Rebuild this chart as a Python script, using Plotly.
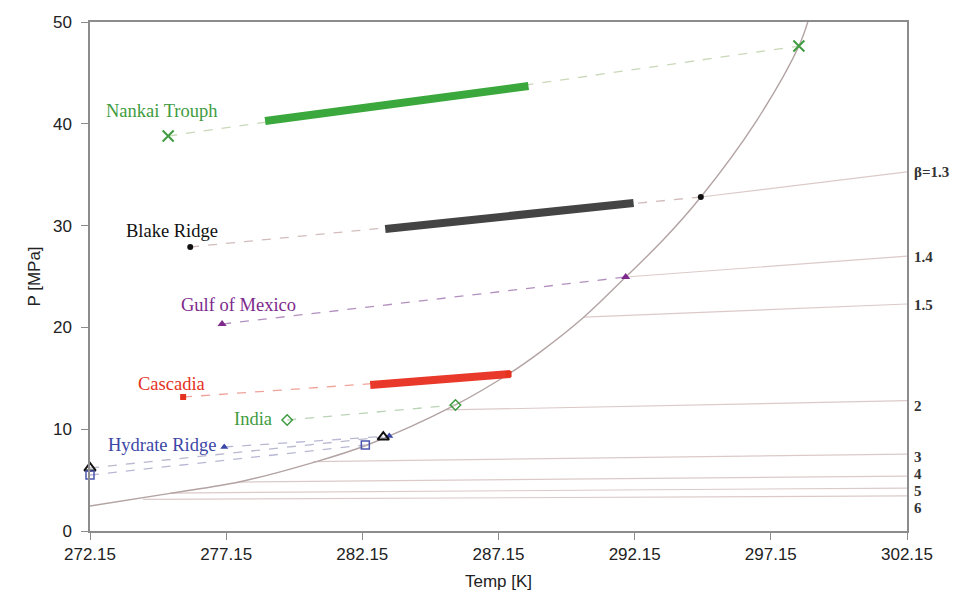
import plotly.graph_objects as go

# ---- data -------------------------------------------------------------
# hydrate stability boundary (temperature K, pressure MPa)
eq_T = [272.15, 275.09, 277.66, 280.24, 282.33, 285.57, 287.52, 288.69,
        290.28, 291.82, 293.2, 294.58, 296.6, 298.18, 298.55]
eq_P = [2.46, 3.70, 4.84, 6.65, 8.45, 12.38, 15.42, 17.6,
        21.0, 24.95, 28.6, 32.81, 40.2, 47.64, 50.4]

# sites: seafloor condition -> base of hydrate stability zone
sites = ["Nankai Trouph", "Blake Ridge", "Gulf of Mexico", "Cascadia",
         "India", "Hydrate Ridge", "Mallik", "Mt.Elbert"]
seafloor_T = [275.02, 275.83, 277.0, 275.57, 279.39, 277.08, 272.15, 272.15]
seafloor_P = [38.8, 27.9, 20.33, 13.16, 10.9, 8.25, 6.19, 5.5]
base_T = [298.18, 294.58, 291.82, 287.52, 285.57, 283.14, 282.92, 282.26]
base_P = [47.64, 32.81, 24.95, 15.42, 12.38, 9.33, 9.23, 8.45]

# hydrate-bearing intervals
zone_sites = ["Nankai Trouph", "Blake Ridge", "Cascadia"]
zone_T0 = [278.58, 282.99, 282.44]
zone_P0 = [40.28, 29.67, 14.34]
zone_T1 = [288.25, 292.11, 287.59]
zone_P1 = [43.71, 32.22, 15.42]

# geothermal-gradient lines (beta)
beta_labels = ["β=1.3", "1.4", "1.5", "2", "3", "4", "5", "6"]
beta_T0 = [294.58, 291.82, 290.28, 285.25, 280.35, 277.55, 275.09, 274.1]
beta_P0 = [32.81, 24.95, 21.0, 11.89, 6.81, 4.81, 3.73, 3.1]
beta_T1 = [302.15] * 8
beta_P1 = [35.27, 27.0, 22.3, 12.8, 7.56, 5.40, 4.22, 3.45]

x_ticks = [272.15, 277.15, 282.15, 287.15, 292.15, 297.15, 302.15]
y_ticks = [0, 10, 20, 30, 40, 50]

# ---- styling ----------------------------------------------------------
style = {
    "Nankai Trouph": dict(color="#3f9c41", dash="#c9d8b8", symbol="x-thin-open", size=11, lw=2),
    "Blake Ridge":   dict(color="#111111", dash="#d3bcbc", symbol="circle", size=6, lw=0),
    "Gulf of Mexico": dict(color="#7d2a8c", dash="#b28fbf", symbol="triangle-up", size=8, lw=0),
    "Cascadia":      dict(color="#e4321f", dash="#eea29a", symbol="square", size=6, lw=0),
    "India":         dict(color="#3f9c41", dash="#b9d4b4", symbol="diamond-open", size=8, lw=1.5),
    "Hydrate Ridge": dict(color="#3b47a6", dash="#b8b8d4", symbol="triangle-up", size=7, lw=0),
    "Mallik":        dict(color="#111111", dash="#b8b8cf", symbol="triangle-up-open", size=10, lw=2),
    "Mt.Elbert":     dict(color="#4c56b0", dash="#b8b8d4", symbol="square-open", size=8, lw=1.5),
}
zone_color = {"Nankai Trouph": "#3aa83c", "Blake Ridge": "#444444", "Cascadia": "#e8392b"}

# label anchor (left edge T, centre P)
site_label_pos = {
    "Nankai Trouph": (272.65, 41.25),
    "Blake Ridge":   (273.40, 29.45),
    "Gulf of Mexico": (275.42, 22.2),
    "Cascadia":      (273.85, 14.4),
    "India":         (277.37, 11.0),
    "Hydrate Ridge": (272.75, 8.45),
    "Mallik":        (269.27, 6.29),
    "Mt.Elbert":     (269.27, 4.13),
}
beta_label_P = [35.27, 26.9, 22.2, 12.28, 7.3, 5.6, 3.93, 2.26]

fig = go.Figure()

for bl, t0, p0, t1, p1 in zip(beta_labels, beta_T0, beta_P0, beta_T1, beta_P1):
    fig.add_trace(go.Scatter(x=[t0, t1], y=[p0, p1], mode="lines",
                             line=dict(color="#dccaca", width=1.2),
                             hoverinfo="skip", showlegend=False))

fig.add_trace(go.Scatter(x=eq_T, y=eq_P, mode="lines",
                         line=dict(color="#b3a3a3", width=1.4, shape="spline"),
                         cliponaxis=False, showlegend=False))

for s, t0, p0, t1, p1 in zip(sites, seafloor_T, seafloor_P, base_T, base_P):
    st = style[s]
    fig.add_trace(go.Scatter(x=[t0, t1], y=[p0, p1], mode="lines",
                             line=dict(color=st["dash"], width=1.3, dash="dash"),
                             showlegend=False))

for s, t0, p0, t1, p1 in zip(zone_sites, zone_T0, zone_P0, zone_T1, zone_P1):
    fig.add_trace(go.Scatter(x=[t0, t1], y=[p0, p1], mode="lines",
                             line=dict(color=zone_color[s], width=8),
                             showlegend=False))

for s, t0, p0, t1, p1 in zip(sites, seafloor_T, seafloor_P, base_T, base_P):
    st = style[s]
    fig.add_trace(go.Scatter(x=[t0, t1], y=[p0, p1], mode="markers",
                             marker=dict(symbol=st["symbol"], size=st["size"], color=st["color"],
                                         line=dict(color=st["color"], width=st["lw"])),
                             cliponaxis=False, showlegend=False))

for s in sites:
    tx, py = site_label_pos[s]
    fig.add_annotation(x=tx, y=py, text=s, showarrow=False, xanchor="left", yanchor="middle",
                       font=dict(family="Liberation Serif", size=18.5, color=style[s]["color"]))

for bl, py in zip(beta_labels, beta_label_P):
    fig.add_annotation(x=1.0, xref="paper", y=py, text="<b>%s</b>" % bl, showarrow=False,
                       xanchor="left", yanchor="middle", xshift=6, borderpad=0,
                       font=dict(family="Liberation Serif", size=15, color="#333333"))

axis_common = dict(showline=True, linecolor="#8c8c8c", linewidth=1.5, mirror=True,
                   showgrid=False, zeroline=False, ticks="outside", ticklen=7,
                   tickcolor="#8c8c8c",
                   tickfont=dict(family="Liberation Sans", size=17, color="#222222"))

fig.update_layout(
    width=972, height=602,
    margin=dict(l=90, r=65, t=22, b=71),
    paper_bgcolor="white", plot_bgcolor="white",
    xaxis=dict(range=[272.15, 302.15], tickvals=x_ticks,
               ticktext=["%.2f" % v for v in x_ticks],
               title=dict(text="Temp [K]", standoff=12,
                          font=dict(family="Liberation Sans", size=17, color="#222222")),
               **axis_common),
    yaxis=dict(range=[0, 50], tickvals=y_ticks, ticklabelstandoff=6,
               title=dict(text="P [MPa]", standoff=8,
                          font=dict(family="Liberation Sans", size=17, color="#222222")),
               **axis_common),
)

fig.write_html("out.html")
